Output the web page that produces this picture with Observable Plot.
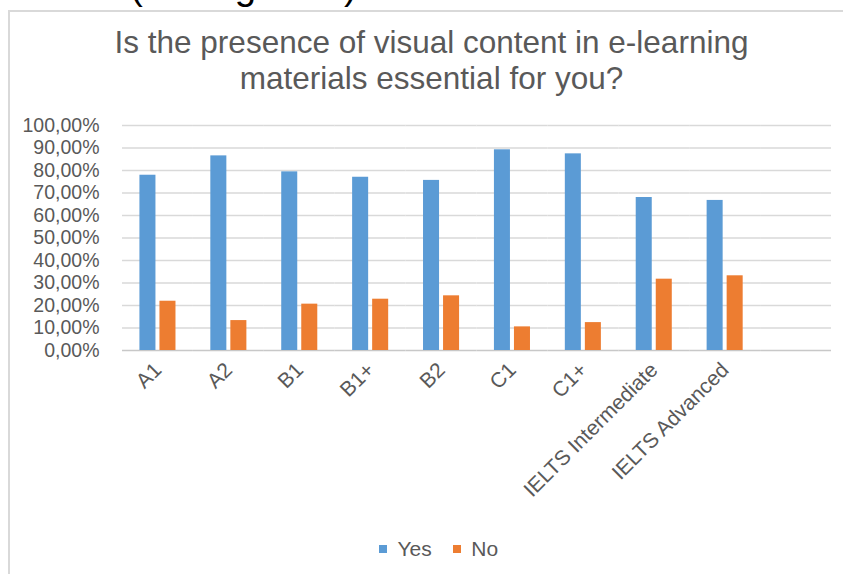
<!DOCTYPE html>
<html>
<head>
<meta charset="utf-8">
<script src="https://cdn.jsdelivr.net/npm/d3@7"></script>
<script src="https://cdn.jsdelivr.net/npm/@observablehq/plot@0.6"></script>
<style>
  html, body { margin: 0; padding: 0; width: 843px; height: 574px; overflow: hidden; background: #fff;
    font-family: "Liberation Sans", Arial, sans-serif; }
  #doc { position: absolute; left: 0; top: -32.6px; font-size: 38.5px; line-height: 38.5px; color: #000; white-space: nowrap; }
  #box { position: absolute; left: 8px; top: 10px; width: 900px; height: 700px; border: 2px solid #d9d9d9; box-sizing: border-box; }
  #title { position: absolute; left: 431.5px; top: 24px; transform: translateX(-50%); font-size: 31.5px; line-height: 36px;
    color: #595959; text-align: center; white-space: nowrap; }
  #chart { position: absolute; left: 0; top: 100px; }
  #legend { position: absolute; left: 379px; top: 532px; display: flex; justify-content: flex-start;
    font-size: 21px; color: #595959; }
  #chart svg g[aria-label="fx-axis tick label"] { font-size: 21px; }
</style>
</head>
<body>
<div id="doc"><span style="position:absolute;left:-2px">e 7</span><span style="position:absolute;left:130px">(see figure 7)</span></div>
<div id="box"></div>
<div id="title">Is the presence of visual content in e-learning<br>materials essential for you?</div>
<div id="chart"></div>
<div id="legend"></div>
<script>
// ---- data ----
const categories = ["A1", "A2", "B1", "B1+", "B2", "C1", "C1+", "IELTS Intermediate", "IELTS Advanced"];
const yesValues = [77.9, 86.5, 79.4, 77.0, 75.6, 89.2, 87.4, 68.0, 66.7];
const noValues  = [21.9, 13.3, 20.6, 22.8, 24.3, 10.5, 12.4, 31.7, 33.2];
const seriesNames = ["Yes", "No"];
const seriesColors = ["#5B9BD5", "#ED7D31"];
const yTicks = [0, 10, 20, 30, 40, 50, 60, 70, 80, 90, 100];
const emptySlot = "\u200b"; // the reference leaves one empty category slot at the right

const slots = [...categories, emptySlot];
const data = categories.flatMap((c, i) => [
  {category: c, series: seriesNames[0], value: yesValues[i]},
  {category: c, series: seriesNames[1], value: noValues[i]}
]);
// gridlines in every slot (so that the empty slot is drawn too)
const grid = slots.flatMap(s => yTicks.slice(1).map(v => ({slot: s, v})));
const baseline = slots.map(s => ({slot: s, v: 0}));

const fmt = d => d.toFixed(2).replace(".", ",") + "%";

const plot = Plot.plot({
  width: 843,
  height: 430,
  marginTop: 25,
  marginBottom: 180,
  marginLeft: 122,
  marginRight: 12,
  style: {fontFamily: "'Liberation Sans', Arial, sans-serif", fontSize: "19.5px", color: "#595959", background: "transparent", overflow: "visible"},
  fx: {domain: slots, paddingInner: 0, paddingOuter: 0, round: false, label: null, tickRotate: -45, tickSize: 0, tickPadding: 16, axis: "bottom"},
  x: {domain: seriesNames, paddingInner: 0.2, paddingOuter: 0.87, round: false, axis: null},
  y: {domain: [0, 100], ticks: yTicks, tickFormat: fmt, tickSize: 0, tickPadding: 23, label: null},
  color: {domain: seriesNames, range: seriesColors},
  marks: [
    Plot.ruleY(grid, {fx: "slot", y: "v", stroke: "#d9d9d9", strokeWidth: 1.3}),
    Plot.ruleY(baseline, {fx: "slot", y: "v", stroke: "#c8c8c8", strokeWidth: 1.5}),
    Plot.barY(data, {fx: "category", x: "series", y: "value", fill: "series"})
  ]
});
document.getElementById("chart").appendChild(plot);

const legend = plot.legend("color", {swatchSize: 8, style: {fontSize: "21px", fontFamily: "'Liberation Sans', Arial, sans-serif", color: "#595959"}});
document.getElementById("legend").appendChild(legend);
</script>
</body>
</html>
